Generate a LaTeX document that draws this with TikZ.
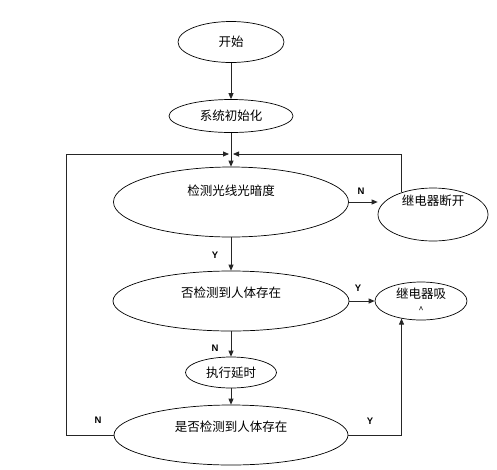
\documentclass[tikz,border=0pt]{standalone}
\usepackage{fontspec}
\setmainfont{Liberation Sans}
\newfontfamily\cjk{Noto Sans CJK SC}
\usetikzlibrary{shapes.geometric,arrows.meta}

\begin{document}
\begin{tikzpicture}[x=1pt, y=-1pt,
  >={Triangle[length=6pt,width=5pt]},
  flow/.style={draw, ellipse, line width=0.7pt, inner sep=0pt, font=\cjk\fontsize{12.5}{15}\selectfont, align=center},
  lift/.style={text height=9pt, text depth=#1},
  yn/.style={font=\bfseries\fontsize{9.5}{11}\selectfont},
  line/.style={draw=black!85, line width=0.8pt},
]
  % Page
  \path[fill=white] (0,0) rectangle (497,469);

  % Steps
  \node[flow, minimum width=106, minimum height=41] (start) at (231,42) {开始};
  \node[flow, minimum width=124, minimum height=33] (init) at (231,116) {系统初始化};
  \node[flow, lift=22pt, minimum width=235, minimum height=70] (detect) at (231,202) {检测光线光暗度};
  \node[flow, lift=27pt, minimum width=110, minimum height=53] (relayoff) at (433,214.5) {继电器断开};
  \node[flow, lift=16pt, minimum width=236, minimum height=60] (ask) at (231,301) {否检测到人体存在};
  \node[flow, minimum width=92, minimum height=38] (relayon) at (421,301) {继电器吸\\{\fontsize{9}{9}\selectfont\textasciicircum}};
  \node[flow, minimum width=91, minimum height=31] (delay) at (231,372.5) {执行延时};
  \node[flow, lift=16pt, minimum width=234, minimum height=60] (last) at (231,435) {是否检测到人体存在};

  % Loop back points
  \coordinate (jn) at (231,154);
  \coordinate (loopL) at (66,154);

  % Branch labels
  \node[yn] (nOff) at (361,191) {N};
  \node[yn] (yAsk) at (215,255) {Y};
  \node[yn] (yOn) at (358,288) {Y};
  \node[yn] (nAsk) at (215,348) {N};
  \node[yn] (nLoop) at (98,420) {N};
  \node[yn] (yLoop) at (370,421) {Y};

  % Main flow
  \draw[line,->] (start) -- (init);
  \draw[line,->] (init) -- (detect);
  \draw[line,->] (detect.east) -- (detect.east -| relayoff.west);
  \draw[line,->] (detect) -- (ask);
  \draw[line,->] (ask) -- (relayon);
  \draw[line,->] (ask) -- (delay);
  \draw[line,->] (delay) -- (last);

  % Loops
  \draw[line,->,shorten >=2pt] (last.west) -| (loopL) -- (jn);
  \draw[line,->,shorten >=2pt] (relayoff.145) |- (jn);
  \draw[line,->] (last.east) -| (relayon.222);

\end{tikzpicture}
\end{document}
